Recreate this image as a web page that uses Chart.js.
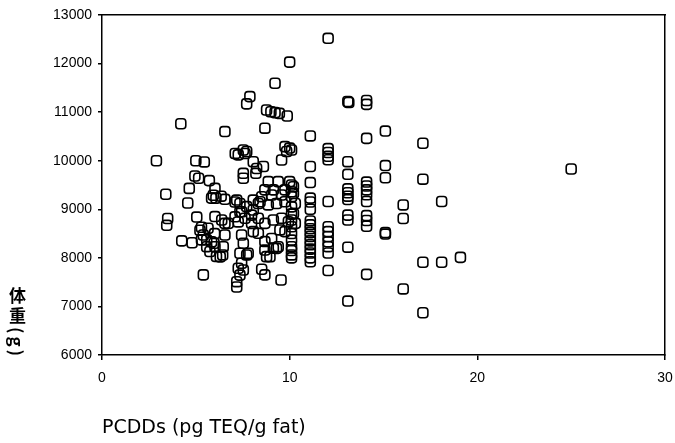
<!DOCTYPE html>
<html><head><meta charset="utf-8">
<script src="https://cdn.jsdelivr.net/npm/chart.js@4"></script>
<style>
html,body{margin:0;padding:0;background:#fff;}
#wrap{position:relative;width:675px;height:443px;}
#ytitle{position:absolute;left:9px;top:287px;writing-mode:vertical-rl;font-family:"Noto Sans CJK JP";font-size:17px;font-weight:bold;letter-spacing:3px;line-height:1;color:#000;}
</style></head><body>
<div id="wrap"><canvas id="c" width="675" height="443"></canvas><div id="ytitle"></div></div>
<script>
const xValues = [
 2.9, 3.4, 3.5, 3.45, 4.2, 4.25, 4.65, 4.57, 4.8, 5.0,
 5.45, 4.95, 5.15, 5.72, 5.05, 5.3, 5.65, 5.22, 5.4, 5.3,
 5.58, 5.84, 5.58, 6.02, 5.75, 6.1, 5.4, 6.02, 5.93, 6.07,
 5.84, 6.35, 6.55, 6.02, 6.55, 6.0, 6.55, 5.97, 6.46, 6.3,
 6.43, 6.55, 7.1, 7.26, 7.53, 7.62, 7.71, 7.88, 7.71, 8.06,
 8.24, 8.6, 8.2, 7.53, 7.53, 8.68, 8.77, 9.0, 9.22, 9.45,
 9.87, 9.22, 10.0, 9.57, 9.75, 9.84, 10.1, 10.0, 7.18, 7.44,
 7.26, 7.44, 7.53, 7.79, 7.44, 7.53, 7.18, 7.18, 8.51, 8.68,
 9.54, 8.06, 8.42, 8.86, 9.39, 10.0, 10.2, 8.68, 9.13, 9.75,
 8.51, 9.04, 9.57, 10.2, 8.33, 8.86, 9.3, 9.75, 10.3, 8.06,
 7.09, 7.35, 7.71, 7.35, 7.09, 7.62, 7.97, 7.97, 8.33, 8.68,
 9.13, 9.57, 9.93, 10.3, 6.73, 6.38, 10.2, 10.1, 10.1, 10.1,
 10.1, 10.1, 8.68, 8.68, 8.77, 9.04, 9.3, 8.33, 8.06, 7.35,
 7.71, 7.26, 7.35, 9.39, 9.13, 8.95, 9.48, 9.75, 10.1, 10.1,
 10.1, 10.1, 10.1, 10.1, 10.1, 10.1,
 12.05, 13.1, 13.15, 14.1, 14.1, 11.1, 14.1, 15.1, 17.1, 25.0,
 11.1, 12.05, 12.05, 12.05, 12.05, 13.1, 13.1, 15.1, 15.1, 17.1,
 11.1, 11.1, 11.1, 11.1, 12.05, 13.1, 13.1, 13.1, 13.1, 14.1,
 14.1, 14.1, 14.1, 14.1, 13.1, 13.1, 14.1, 14.1, 14.1, 16.05,
 16.05, 18.1, 15.1, 15.1, 11.1, 11.1, 11.1, 11.1, 11.1, 11.1,
 11.1, 11.1, 11.1, 11.1, 11.1, 12.05, 12.05, 12.05, 12.05, 12.05,
 12.05, 12.05, 13.1, 14.1, 16.05, 17.1, 18.1, 19.1, 13.1, 17.1
];
const yValues = [
 10000, 9310, 8810, 8670, 10760, 8350, 9430, 9130, 8310, 10000,
 9975, 9685, 9640, 9590, 8840, 8630, 8610, 8570, 8470, 8370,
 8370, 8330, 8230, 8230, 8130, 8030, 7650, 9430, 9290, 9230,
 9230, 9270, 9205, 8850, 8710, 8500, 8470, 8300, 8230, 8020,
 8060, 10600, 10150, 10120, 10220, 10150, 10190, 11320, 11170, 9980,
 9840, 9880, 9740, 9740, 9640, 10670, 11045, 11010, 10990, 10975,
 10920, 11595, 12030, 10015, 10290, 10190, 10220, 10260, 9190, 8950,
 8740, 8470, 8300, 8095, 7890, 7750, 7510, 7400, 7765, 7650,
 7545, 9190, 9155, 9570, 9570, 9570, 9465, 9400, 9400, 9400,
 9260, 9295, 9295, 9330, 9120, 9090, 9120, 9155, 9120, 8985,
 9150, 9120, 9055, 8950, 8845, 8815, 8880, 8710, 8815, 8710,
 8780, 8815, 8745, 8710, 8710, 8780, 8915, 8640, 8500, 8365,
 8230, 8060, 8335, 8160, 8025, 8400, 8195, 8505, 8540, 8095,
 8060, 7785, 7645, 8230, 8200, 8025, 8575, 8540, 9050, 8900,
 8780, 8150, 8000, 9500, 9360, 9260,
 12520, 11220, 11200, 11240, 11160, 10510, 10460, 10610, 10360, 9830,
 9880, 10250, 10170, 10090, 10020, 9980, 9720, 9900, 9650, 9620,
 9550, 9230, 9150, 9000, 9160, 9420, 9340, 9270, 9200, 9560,
 9480, 9400, 9300, 9160, 8880, 8780, 8870, 8770, 8650, 9090,
 8810, 9160, 8520, 8490, 8760, 8680, 8600, 8520, 8440, 8350,
 8270, 8180, 8100, 8000, 7920, 8640, 8540, 8440, 8330, 8230,
 8100, 7740, 8220, 7660, 7360, 7910, 7910, 8010, 7110, 6870
];
const xTicks = [0, 10, 20, 30];
const yTicks = [6000, 7000, 8000, 9000, 10000, 11000, 12000, 13000];
const xTitle = 'PCDDs (pg TEQ/g fat)';
const yTitle = '体重(g)';

document.getElementById('ytitle').textContent = yTitle;
const points = xValues.map((x, i) => ({x: x, y: yValues[i]}));
const tickFont = {family: '"Liberation Sans", Arial, sans-serif', size: 14};
const plain = v => String(v);

new Chart(document.getElementById('c'), {
  type: 'scatter',
  data: {datasets: [{
    data: points,
    pointStyle: 'rectRounded',
    radius: 5.8,
    borderWidth: 1.6,
    borderColor: '#000',
    backgroundColor: 'rgba(0,0,0,0)'
  }]},
  options: {
    responsive: false,
    animation: false,
    events: [],
    layout: {padding: {top: 15, right: 10, left: 0, bottom: 0}},
    plugins: {legend: {display: false}, tooltip: {enabled: false}},
    scales: {
      x: {
        type: 'linear', position: 'bottom',
        min: xTicks[0], max: xTicks[xTicks.length - 1],
        afterBuildTicks: s => { s.ticks = xTicks.map(v => ({value: v})); },
        ticks: {font: tickFont, color: '#000', padding: 10, maxRotation: 0, callback: plain},
        grid: {display: true, drawOnChartArea: false, drawTicks: true, tickLength: 5, color: '#000', lineWidth: 1.5},
        border: {display: true, color: '#000', width: 1.5},
        title: {display: true, text: xTitle, align: 'start', color: '#000',
          font: {family: '"DejaVu Sans", sans-serif', size: 19}, padding: {top: 0, bottom: 4}},
        afterFit: s => { s.height = 88; s.paddingLeft = 0; s.paddingRight = 0; }
      },
      y: {
        type: 'linear', position: 'left',
        min: yTicks[0], max: yTicks[yTicks.length - 1],
        afterBuildTicks: s => { s.ticks = yTicks.map(v => ({value: v})); },
        ticks: {font: tickFont, color: '#000', padding: 6, callback: plain},
        grid: {display: true, drawOnChartArea: false, drawTicks: true, tickLength: 4, color: '#000', lineWidth: 1.5},
        border: {display: true, color: '#000', width: 1.5},
        afterFit: s => { s.width = 102; s.paddingTop = 0; s.paddingBottom = 0; }
      },
      x2: {
        type: 'linear', position: 'top', axis: 'x',
        min: xTicks[0], max: xTicks[xTicks.length - 1],
        ticks: {display: false},
        grid: {display: false},
        border: {display: true, color: '#000', width: 1.5},
        afterFit: s => { s.height = 0; s.paddingLeft = 0; s.paddingRight = 0; }
      },
      y2: {
        type: 'linear', position: 'right', axis: 'y',
        min: yTicks[0], max: yTicks[yTicks.length - 1],
        ticks: {display: false},
        grid: {display: false},
        border: {display: true, color: '#000', width: 1.5},
        afterFit: s => { s.width = 0; s.paddingTop = 0; s.paddingBottom = 0; }
      }
    }
  }
});
</script>
</body></html>
